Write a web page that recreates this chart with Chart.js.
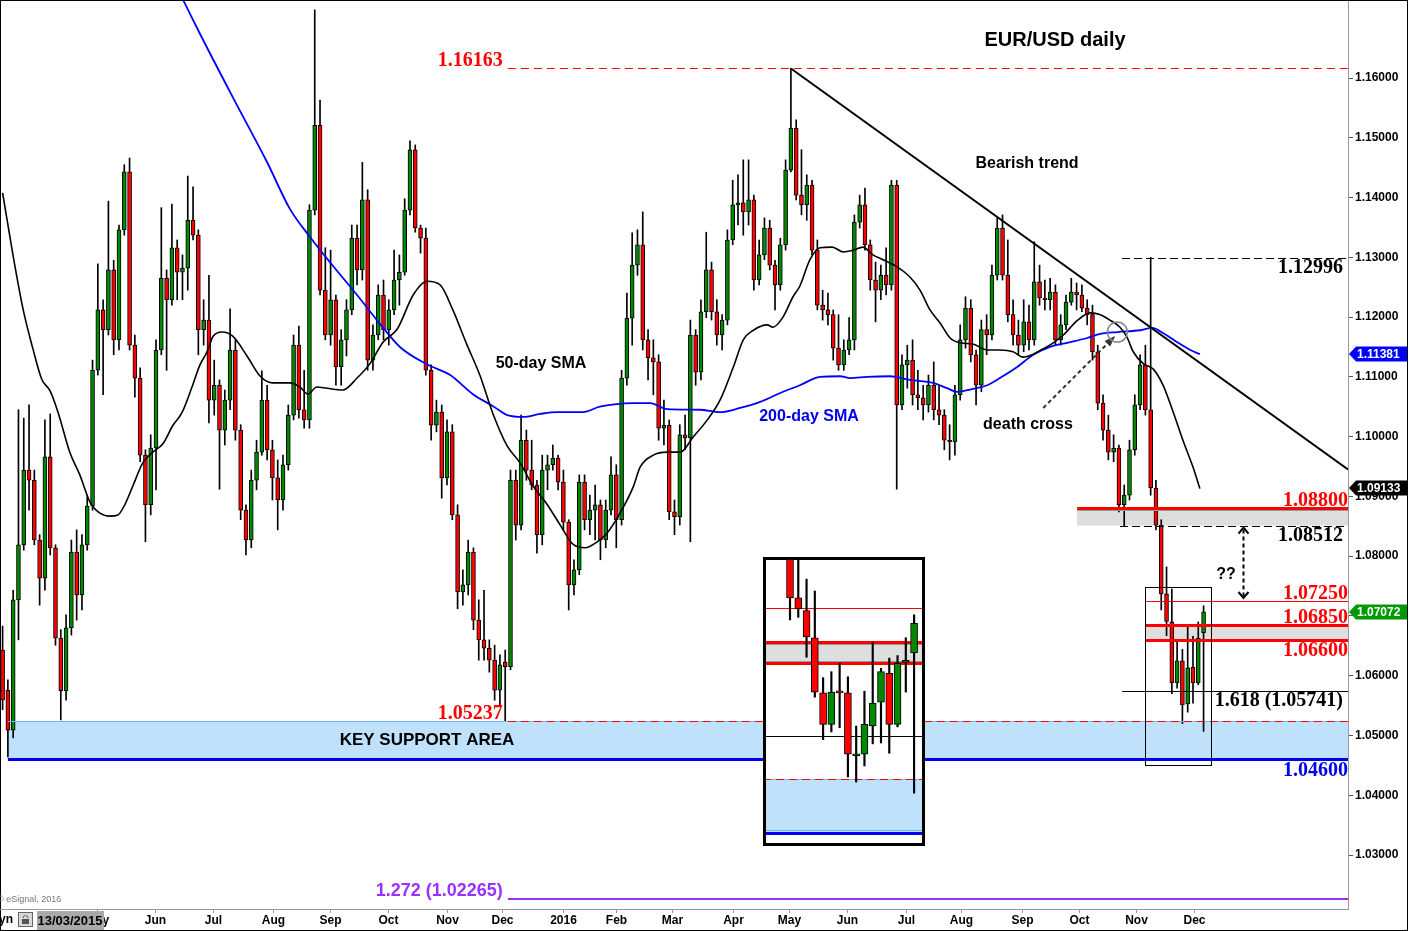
<!DOCTYPE html>
<html>
<head>
<meta charset="utf-8">
<script src="https://cdn.jsdelivr.net/npm/chart.js@4.4.1/dist/chart.umd.min.js"></script>
<style>
  html, body { margin: 0; padding: 0; background: #fff; }
  #wrap { position: relative; width: 1409px; height: 931px; overflow: hidden; }
  #main { position: absolute; left: 0; top: 0; }
  #inset { position: absolute; left: 763px; top: 557px; }
</style>
</head>
<body>
<div id="wrap">
  <canvas id="main" width="1409" height="931"></canvas>
  <canvas id="inset" width="162" height="289"></canvas>
</div>
<script>
// EUR/USD, two-day candles from mid March 2015 to early December 2016
const opens = [
  1.0643, 1.0576, 1.0509, 1.0727, 1.0819, 1.0944, 1.0927, 1.0827, 1.0763, 1.0966,
  1.0814, 1.0663, 1.0575, 1.0680, 1.0807, 1.0735, 1.0819, 1.0884, 1.1111, 1.1212,
  1.1179, 1.1279, 1.1162, 1.1346, 1.1443, 1.1153, 1.1098, 1.0969, 1.0886, 1.0981,
  1.1145, 1.1265, 1.1229, 1.1316, 1.1275, 1.1282, 1.1362, 1.1337, 1.1179, 1.1195,
  1.1061, 1.1086, 1.1011, 1.1061, 1.1145, 1.1011, 1.0877, 1.0827, 1.0927, 1.0974,
  1.1061, 1.0978, 1.0931, 1.0894, 1.0953, 1.1036, 1.1153, 1.1045, 1.1028, 1.1379,
  1.1521, 1.1245, 1.1170, 1.1229, 1.1117, 1.1162, 1.1212, 1.1332, 1.1279, 1.1396,
  1.1128, 1.1170, 1.1237, 1.1179, 1.1212, 1.1262, 1.1275, 1.1379, 1.1480, 1.1349,
  1.1332, 1.1111, 1.1019, 1.1041, 1.0931, 1.1008, 1.0869, 1.0740, 1.0752, 1.0807,
  1.0693, 1.0660, 1.0646, 1.0626, 1.0576, 1.0623, 1.0615, 1.0927, 1.0852, 1.0994,
  1.0944, 1.0919, 1.0836, 1.0944, 1.0953, 1.0964, 1.0924, 1.0857, 1.0752, 1.0777,
  1.0924, 1.0861, 1.0877, 1.0886, 1.0827, 1.0877, 1.0936, 1.0861, 1.1098, 1.1198,
  1.1287, 1.1321, 1.1162, 1.1132, 1.1125, 1.1014, 1.1019, 1.0874, 1.0866, 1.1003,
  1.0998, 1.1170, 1.1108, 1.1209, 1.1279, 1.1209, 1.1170, 1.1195, 1.1329, 1.1388,
  1.1391, 1.1376, 1.1396, 1.1262, 1.1304, 1.1349, 1.1287, 1.1254, 1.1321, 1.1446,
  1.1516, 1.1404, 1.1388, 1.1421, 1.1312, 1.1220, 1.1212, 1.1204, 1.1148, 1.1120,
  1.1145, 1.1162, 1.1359, 1.1388, 1.1321, 1.1262, 1.1245, 1.1270, 1.1254, 1.1421,
  1.1053, 1.1120, 1.1128, 1.1070, 1.1065, 1.1053, 1.1086, 1.1045, 1.1036, 1.0994,
  1.0991, 1.1070, 1.1162, 1.1215, 1.1137, 1.1086, 1.1179, 1.1170, 1.1270, 1.1349,
  1.1270, 1.1204, 1.1170, 1.1153, 1.1192, 1.1162, 1.1259, 1.1232, 1.1229, 1.1242,
  1.1162, 1.1187, 1.1225, 1.1242, 1.1237, 1.1215, 1.1204, 1.1142, 1.1056, 1.1011,
  1.0974, 1.0981, 1.0886, 1.0902, 1.0978, 1.1053, 1.1120, 1.1045, 1.0914, 1.0852,
  1.0737, 1.0690, 1.0588, 1.0625, 1.0553, 1.0614, 1.0588, 1.0672
];
const highs = [
  1.0683, 1.0593, 1.0743, 1.1045, 1.1031, 1.1053, 1.0944, 1.0836, 1.1028, 1.1038,
  1.0819, 1.0677, 1.0702, 1.0827, 1.0844, 1.0836, 1.0902, 1.1128, 1.1289, 1.1229,
  1.1394, 1.1295, 1.1354, 1.1455, 1.1466, 1.1170, 1.1115, 1.0978, 1.1003, 1.1162,
  1.1383, 1.1279, 1.1389, 1.1329, 1.1304, 1.1436, 1.1418, 1.1346, 1.1229, 1.1270,
  1.1128, 1.1095, 1.1078, 1.1214, 1.1162, 1.1020, 1.0886, 1.0944, 1.0994, 1.1110,
  1.1086, 1.0994, 1.0961, 1.0969, 1.1053, 1.1170, 1.1185, 1.1111, 1.1388, 1.1714,
  1.1563, 1.1316, 1.1312, 1.1237, 1.1179, 1.1229, 1.1354, 1.1354, 1.1459, 1.1413,
  1.1187, 1.1254, 1.1262, 1.1229, 1.1312, 1.1304, 1.1398, 1.1495, 1.1488, 1.1354,
  1.1349, 1.1120, 1.1061, 1.1053, 1.1028, 1.1020, 1.0886, 1.0777, 1.0827, 1.0814,
  1.0727, 1.0743, 1.0660, 1.0651, 1.0635, 1.0643, 1.0944, 1.0944, 1.1036, 1.1011,
  1.0994, 1.0927, 1.0969, 1.0969, 1.0986, 1.0969, 1.0944, 1.0861, 1.0794, 1.0936,
  1.0936, 1.0902, 1.0919, 1.0894, 1.0894, 1.0966, 1.0953, 1.1111, 1.1240, 1.1341,
  1.1346, 1.1376, 1.1179, 1.1162, 1.1137, 1.1061, 1.1028, 1.0894, 1.1020, 1.1036,
  1.1195, 1.1179, 1.1229, 1.1342, 1.1292, 1.1229, 1.1204, 1.1346, 1.1429, 1.1438,
  1.1463, 1.1463, 1.1404, 1.1329, 1.1366, 1.1362, 1.1295, 1.1332, 1.1463, 1.1616,
  1.1530, 1.1480, 1.1438, 1.1429, 1.1329, 1.1245, 1.1240, 1.1212, 1.1204, 1.1162,
  1.1199, 1.1371, 1.1404, 1.1416, 1.1329, 1.1292, 1.1287, 1.1316, 1.1429, 1.1429,
  1.1137, 1.1153, 1.1162, 1.1111, 1.1086, 1.1103, 1.1125, 1.1086, 1.1045, 1.1020,
  1.1086, 1.1187, 1.1234, 1.1229, 1.1145, 1.1195, 1.1204, 1.1287, 1.1366, 1.1371,
  1.1329, 1.1229, 1.1195, 1.1229, 1.1220, 1.1326, 1.1287, 1.1262, 1.1265, 1.1254,
  1.1204, 1.1237, 1.1265, 1.1257, 1.1254, 1.1229, 1.1220, 1.1153, 1.1070, 1.1036,
  1.1003, 1.0986, 1.0919, 1.0994, 1.1070, 1.1137, 1.1153, 1.1300, 1.0927, 1.0861,
  1.0782, 1.0745, 1.0660, 1.0644, 1.0685, 1.0666, 1.0690, 1.0717
];
const lows = [
  1.0543, 1.0464, 1.0496, 1.0660, 1.0810, 1.0877, 1.0819, 1.0718, 1.0743, 1.0802,
  1.0651, 1.0526, 1.0559, 1.0668, 1.0693, 1.0710, 1.0810, 1.0877, 1.1103, 1.1070,
  1.1170, 1.1137, 1.1145, 1.1337, 1.1145, 1.1066, 1.0958, 1.0824, 1.0869, 1.0911,
  1.1137, 1.1111, 1.1220, 1.1229, 1.1229, 1.1245, 1.1329, 1.1137, 1.1153, 1.1023,
  1.1036, 1.0912, 1.0986, 1.1045, 1.0994, 1.0861, 1.0802, 1.0814, 1.0911, 1.0969,
  1.0961, 1.0894, 1.0844, 1.0877, 1.0944, 1.1028, 1.1031, 1.1014, 1.1014, 1.1371,
  1.1237, 1.1162, 1.1153, 1.1086, 1.1086, 1.1135, 1.1204, 1.1254, 1.1262, 1.1111,
  1.1111, 1.1162, 1.1162, 1.1153, 1.1204, 1.1220, 1.1270, 1.1371, 1.1342, 1.1307,
  1.1103, 1.0994, 1.1008, 1.0897, 1.0919, 1.0861, 1.0712, 1.0718, 1.0735, 1.0677,
  1.0626, 1.0626, 1.0606, 1.0559, 1.0551, 1.0524, 1.0610, 1.0827, 1.0844, 1.0927,
  1.0911, 1.0805, 1.0819, 1.0911, 1.0944, 1.0911, 1.0844, 1.0710, 1.0735, 1.0769,
  1.0844, 1.0836, 1.0827, 1.0794, 1.0814, 1.0869, 1.0814, 1.0852, 1.1086, 1.1153,
  1.1270, 1.1145, 1.1095, 1.1070, 1.0994, 1.0986, 1.0861, 1.0836, 1.0852, 1.0978,
  1.0824, 1.1086, 1.1095, 1.1199, 1.1195, 1.1153, 1.1145, 1.1187, 1.1321, 1.1354,
  1.1337, 1.1354, 1.1245, 1.1254, 1.1296, 1.1279, 1.1212, 1.1245, 1.1312, 1.1443,
  1.1396, 1.1371, 1.1362, 1.1304, 1.1212, 1.1195, 1.1187, 1.1128, 1.1111, 1.1111,
  1.1137, 1.1145, 1.1349, 1.1312, 1.1245, 1.1192, 1.1229, 1.1237, 1.1245, 1.0912,
  1.1045, 1.1081, 1.1053, 1.1045, 1.1028, 1.1041, 1.1028, 1.1020, 1.0978, 1.0961,
  1.0969, 1.1061, 1.1148, 1.1125, 1.1053, 1.1075, 1.1137, 1.1162, 1.1262, 1.1262,
  1.1192, 1.1153, 1.1137, 1.1142, 1.1145, 1.1153, 1.1220, 1.1212, 1.1212, 1.1153,
  1.1153, 1.1179, 1.1220, 1.1212, 1.1209, 1.1187, 1.1128, 1.1045, 1.0994, 1.0961,
  1.0958, 1.0874, 1.0851, 1.0894, 1.0969, 1.1045, 1.1036, 1.0902, 1.0844, 1.0710,
  1.0667, 1.0570, 1.0579, 1.0520, 1.0539, 1.0554, 1.0585, 1.0507
];
const closes = [
  1.0559, 1.0509, 1.0727, 1.0819, 1.0944, 1.0927, 1.0827, 1.0763, 1.0966, 1.0814,
  1.0663, 1.0575, 1.0680, 1.0807, 1.0735, 1.0819, 1.0884, 1.1111, 1.1212, 1.1179,
  1.1279, 1.1162, 1.1346, 1.1443, 1.1153, 1.1098, 1.0969, 1.0886, 1.0981, 1.1145,
  1.1265, 1.1229, 1.1316, 1.1275, 1.1282, 1.1362, 1.1337, 1.1179, 1.1195, 1.1061,
  1.1086, 1.1011, 1.1061, 1.1145, 1.1011, 1.0877, 1.0827, 1.0927, 1.0974, 1.1061,
  1.0978, 1.0931, 1.0894, 1.0953, 1.1036, 1.1153, 1.1045, 1.1028, 1.1379, 1.1521,
  1.1245, 1.1170, 1.1229, 1.1117, 1.1162, 1.1212, 1.1332, 1.1279, 1.1396, 1.1128,
  1.1170, 1.1237, 1.1179, 1.1212, 1.1262, 1.1275, 1.1379, 1.1480, 1.1349, 1.1332,
  1.1111, 1.1019, 1.1041, 1.0931, 1.1008, 1.0869, 1.0740, 1.0752, 1.0807, 1.0693,
  1.0660, 1.0646, 1.0626, 1.0576, 1.0618, 1.0615, 1.0927, 1.0852, 1.0994, 1.0944,
  1.0919, 1.0836, 1.0944, 1.0953, 1.0964, 1.0924, 1.0857, 1.0752, 1.0777, 1.0924,
  1.0861, 1.0877, 1.0886, 1.0827, 1.0877, 1.0936, 1.0861, 1.1098, 1.1198, 1.1287,
  1.1321, 1.1162, 1.1132, 1.1125, 1.1014, 1.1019, 1.0874, 1.0866, 1.1003, 1.0998,
  1.1170, 1.1108, 1.1209, 1.1279, 1.1209, 1.1170, 1.1195, 1.1329, 1.1388, 1.1391,
  1.1376, 1.1396, 1.1262, 1.1304, 1.1349, 1.1287, 1.1254, 1.1321, 1.1446, 1.1516,
  1.1404, 1.1388, 1.1421, 1.1312, 1.1220, 1.1212, 1.1204, 1.1148, 1.1120, 1.1145,
  1.1162, 1.1359, 1.1388, 1.1321, 1.1262, 1.1245, 1.1270, 1.1254, 1.1421, 1.1053,
  1.1120, 1.1128, 1.1070, 1.1065, 1.1053, 1.1086, 1.1045, 1.1036, 1.0994, 1.0991,
  1.1070, 1.1162, 1.1215, 1.1137, 1.1086, 1.1179, 1.1170, 1.1270, 1.1349, 1.1270,
  1.1204, 1.1170, 1.1153, 1.1192, 1.1162, 1.1259, 1.1232, 1.1229, 1.1242, 1.1162,
  1.1187, 1.1225, 1.1242, 1.1237, 1.1215, 1.1204, 1.1142, 1.1056, 1.1011, 1.0974,
  1.0981, 1.0886, 1.0902, 1.0978, 1.1053, 1.1120, 1.1045, 1.0914, 1.0852, 1.0737,
  1.0691, 1.0588, 1.0625, 1.0551, 1.0613, 1.0588, 1.0663, 1.0707
];

// moving averages, at candle positions
const sma50Idx = [0, 2.0, 3.9, 5.7, 7.4, 9.0, 10.5, 12.7, 14.6, 16.5, 18.4, 20.3, 21.8, 23.1, 24.6, 26.5, 28.4, 30.3, 32.2, 33.9,
  35.8, 37.3, 38.6, 39.8, 41.5, 43.5, 46.2, 48.7, 51.1, 54.3, 56.2, 57.7, 59.4, 61.3, 64.3, 67.0, 69.5, 71.9, 74.6, 77.6,
  80.2, 82.7, 85.1, 87.8, 90.2, 92.7, 95.4, 97.8, 100.3, 102.9, 105.4, 107.8, 110.1, 112.4, 114.3, 116.7, 119.2, 120.5, 123.0, 125.6,
  128.1, 130.5, 133.2, 135.6, 138.1, 140.0, 141.9, 144.5, 145.6, 147.5, 149.4, 150.7, 152.6, 154.5, 156.8, 158.9, 160.8, 162.6, 164.5, 166.4,
  169.1, 171.5, 173.4, 175.3, 177.2, 179.1, 181.0, 183.4, 186.1, 188.5, 191.0, 192.9, 194.8, 196.7, 198.6, 200.5, 203.1, 205.6, 207.5, 209.3,
  211.2, 212.5, 213.7, 215.6, 217.5, 219.4, 221.3, 223.1, 225.0, 226.3];
const sma50Val = [1.1408, 1.1302, 1.1212, 1.1148, 1.1096, 1.1076, 1.1040, 1.0974, 1.0936, 1.0891, 1.0872, 1.0867, 1.0869, 1.0886, 1.0917, 1.0956, 1.0974, 1.0988, 1.1019, 1.1040,
  1.1083, 1.1120, 1.1141, 1.1168, 1.1175, 1.1168, 1.1135, 1.1101, 1.1090, 1.1090, 1.1083, 1.1071, 1.1083, 1.1081, 1.1078, 1.1098, 1.1123, 1.1158, 1.1180, 1.1237,
  1.1260, 1.1254, 1.1212, 1.1153, 1.1103, 1.1038, 1.0984, 1.0956, 1.0917, 1.0887, 1.0852, 1.0820, 1.0814, 1.0824, 1.0839, 1.0872, 1.0916, 1.0949, 1.0969, 1.0974,
  1.0974, 1.0999, 1.1028, 1.1061, 1.1116, 1.1162, 1.1178, 1.1187, 1.1183, 1.1200, 1.1234, 1.1252, 1.1296, 1.1316, 1.1317, 1.1309, 1.1312, 1.1317, 1.1304, 1.1296,
  1.1284, 1.1267, 1.1245, 1.1212, 1.1190, 1.1165, 1.1157, 1.1155, 1.1145, 1.1145, 1.1142, 1.1133, 1.1138, 1.1147, 1.1157, 1.1170, 1.1194, 1.1207, 1.1204, 1.1195,
  1.1183, 1.1167, 1.1142, 1.1122, 1.1113, 1.1085, 1.1040, 1.0994, 1.0949, 1.0913];
const sma200Idx = [31.6, 34.1, 37.3, 43.5, 50.0, 54.3, 58.1, 62.5, 67.0, 71.3, 75.1, 80.2, 84.6, 88.9, 92.7, 95.4, 98.4, 101.6, 104.8, 109.7,
  112.9, 119.2, 122.4, 125.6, 131.8, 135.6, 139.4, 143.2, 147.0, 150.7, 154.5, 158.3, 160.2, 163.4, 167.7, 171.5, 175.9, 178.5, 180.4, 183.4,
  186.1, 188.5, 191.7, 194.8, 198.0, 201.2, 205.0, 207.5, 210.7, 215.0, 217.3, 219.4, 222.0, 224.5, 226.3];
const sma200Val = [1.1774, 1.1731, 1.1674, 1.1568, 1.1459, 1.1381, 1.1334, 1.1285, 1.1237, 1.1189, 1.1150, 1.1121, 1.1103, 1.1071, 1.1051, 1.1036, 1.1033, 1.1038, 1.1041, 1.1041,
  1.1050, 1.1056, 1.1056, 1.1046, 1.1045, 1.1041, 1.1048, 1.1058, 1.1073, 1.1086, 1.1100, 1.1101, 1.1098, 1.1100, 1.1101, 1.1095, 1.1090, 1.1081, 1.1075, 1.1080,
  1.1086, 1.1098, 1.1116, 1.1137, 1.1150, 1.1157, 1.1165, 1.1172, 1.1175, 1.1178, 1.1182, 1.1173, 1.1158, 1.1145, 1.1138];

// last daily candles, shown in the zoom box
const insetOpen  = [1.0800, 1.0737, 1.0722, 1.0690, 1.0625, 1.0588, 1.0626, 1.0625, 1.0551, 1.0553, 1.0586, 1.0614, 1.0648, 1.0588, 1.0661, 1.0672];
const insetHigh  = [1.0800, 1.0782, 1.0759, 1.0745, 1.0643, 1.0650, 1.0660, 1.0644, 1.0586, 1.0627, 1.0685, 1.0654, 1.0666, 1.0669, 1.0690, 1.0717];
const insetLow   = [1.0711, 1.0714, 1.0667, 1.0620, 1.0570, 1.0579, 1.0584, 1.0526, 1.0520, 1.0539, 1.0565, 1.0566, 1.0554, 1.0585, 1.0626, 1.0507];
const insetClose = [1.0737, 1.0724, 1.0691, 1.0626, 1.0588, 1.0626, 1.0625, 1.0553, 1.0551, 1.0588, 1.0613, 1.0650, 1.0588, 1.0660, 1.0663, 1.0707];

const yTicks = [1.03, 1.04, 1.05, 1.06, 1.07, 1.08, 1.09, 1.10, 1.11, 1.12, 1.13, 1.14, 1.15, 1.16];
const monthLabels = ['May', 'Jun', 'Jul', 'Aug', 'Sep', 'Oct', 'Nov', 'Dec', '2016', 'Feb', 'Mar', 'Apr', 'May', 'Jun', 'Jul', 'Aug', 'Sep', 'Oct', 'Nov', 'Dec'];
const monthIdx = [17.8, 28.8, 39.8, 51.1, 61.9, 72.9, 84.0, 94.4, 105.9, 116.0, 126.5, 138.1, 148.7, 159.6, 170.8, 181.2, 192.7, 203.5, 214.3, 225.2];

// price levels
const high2016 = 1.16163, low2015 = 1.05237, nov9High = 1.12996, octLow = 1.08512;
const level10880 = 1.08800, level10725 = 1.07250, level10685 = 1.06850, level10660 = 1.06600;
const fib1618 = 1.05741, marchLow = 1.04600, fib1272 = 1.02265;
const lastSma200 = 1.11381, lastSma50 = 1.09133, lastClose = 1.07072;
// where the levels start (candle index)
const fromMarch = 1.0, fromDecLow = 95.5, fromOct = 203.1, fromNov = 211.6, fromLateNov = 216;
const boxIdx = [216, 228.4], boxPrice = [1.0749, 1.0451];
const trendIdx = [149, 254.3], trendPrice = [1.1616, 1.0945];
const crossArrowIdx = [196.7, 209.9], crossArrowPrice = [1.1048, 1.1165];
const crossIdx = 210.7, crossPrice = 1.1175;
const gapArrowIdx = 234.5;

const GREEN = '#008800', RED = '#ff0000';
Chart.defaults.font.family = "'Liberation Sans', Arial, sans-serif";

function hline(ctx, x0, x1, y, color, width, dash) {
  const yy = width % 2 ? Math.round(y) + 0.5 : Math.round(y);
  ctx.save();
  ctx.beginPath();
  ctx.setLineDash(dash || []);
  ctx.strokeStyle = color;
  ctx.lineWidth = width;
  ctx.moveTo(x0, yy);
  ctx.lineTo(x1, yy);
  ctx.stroke();
  ctx.restore();
}
function text(ctx, str, x, y, font, color, align, base) {
  ctx.save();
  ctx.font = font;
  ctx.fillStyle = color;
  ctx.textAlign = align || 'center';
  ctx.textBaseline = base || 'middle';
  ctx.fillText(str, x, y);
  ctx.restore();
}
function chevron(ctx, x, y, dir) {
  ctx.beginPath();
  ctx.moveTo(x - 5, y + 6 * dir);
  ctx.lineTo(x, y);
  ctx.lineTo(x + 5, y + 6 * dir);
  ctx.stroke();
}

const SERIF = "bold 20px 'Liberation Serif', 'Times New Roman', serif";
const SANS = "'Liberation Sans', Arial, sans-serif";

const annotate = {
  id: 'annotate',
  beforeDatasetsDraw(chart) {
    const { ctx, chartArea: a, scales: { x, y } } = chart;
    const X = v => x.getPixelForValue(v), Y = v => y.getPixelForValue(v);
    ctx.save();
    ctx.fillStyle = '#bfe1fb';
    ctx.fillRect(X(fromMarch), Y(low2015), a.right - X(fromMarch), Y(marchLow) - Y(low2015));
    ctx.fillStyle = '#dedede';
    ctx.fillRect(X(fromOct), Y(level10880), a.right - X(fromOct), Y(octLow) - Y(level10880));
    ctx.fillRect(X(fromLateNov), Y(level10685), a.right - X(fromLateNov), Y(level10660) - Y(level10685));
    ctx.restore();
  },
  afterDatasetsDraw(chart) {
    const { ctx, chartArea: a, scales: { x, y } } = chart;
    const X = v => x.getPixelForValue(v), Y = v => y.getPixelForValue(v);
    const R = a.right;

    // support area
    hline(ctx, X(fromMarch), R, Y(low2015), '#6fb7ee', 1);
    hline(ctx, X(fromMarch), R, Y(marchLow), '#0000ee', 3);
    hline(ctx, X(fromDecLow), R, Y(low2015), RED, 1, [8, 5]);
    hline(ctx, X(fromDecLow), R, Y(high2016), RED, 1, [8, 5]);
    hline(ctx, X(fromDecLow), R, Y(fib1272), '#9b30ff', 2);

    // recent levels
    hline(ctx, X(fromNov), R, Y(nov9High), '#000', 1, [8, 4]);
    hline(ctx, X(fromNov - 0.4), R, Y(octLow), '#000', 1, [8, 4]);
    hline(ctx, X(fromOct), R, Y(level10880), RED, 3);
    hline(ctx, X(fromOct), R, Y(level10880) + 2, '#999', 1);
    hline(ctx, X(fromLateNov), R, Y(level10725), RED, 1);
    hline(ctx, X(fromLateNov), R, Y(level10685), RED, 3);
    hline(ctx, X(fromLateNov), R, Y(level10660), RED, 3);
    hline(ctx, X(fromNov), R, Y(fib1618), '#000', 1);

    // box round the last weeks
    ctx.save();
    ctx.strokeStyle = '#000';
    ctx.lineWidth = 1;
    const bx0 = Math.round(X(boxIdx[0])) + 0.5, bx1 = Math.round(X(boxIdx[1])) + 0.5;
    const by0 = Math.round(Y(boxPrice[0])) + 0.5, by1 = Math.round(Y(boxPrice[1])) + 0.5;
    ctx.strokeRect(bx0, by0, bx1 - bx0, by1 - by0);
    ctx.restore();

    // bearish trend line
    ctx.save();
    ctx.beginPath();
    ctx.rect(a.left, a.top, a.width, a.height);
    ctx.clip();
    ctx.strokeStyle = '#000';
    ctx.lineWidth = 2;
    ctx.beginPath();
    ctx.moveTo(X(trendIdx[0]), Y(trendPrice[0]));
    ctx.lineTo(X(trendIdx[1]), Y(trendPrice[1]));
    ctx.stroke();
    ctx.restore();

    // death cross arrow and circle
    ctx.save();
    const ax0 = X(crossArrowIdx[0]), ay0 = Y(crossArrowPrice[0]);
    const ax1 = X(crossArrowIdx[1]), ay1 = Y(crossArrowPrice[1]);
    ctx.strokeStyle = '#333';
    ctx.fillStyle = '#333';
    ctx.lineWidth = 2;
    ctx.setLineDash([4, 3]);
    ctx.beginPath();
    ctx.moveTo(ax0, ay0);
    ctx.lineTo(ax1, ay1);
    ctx.stroke();
    ctx.setLineDash([]);
    const ang = Math.atan2(ay1 - ay0, ax1 - ax0);
    ctx.beginPath();
    ctx.moveTo(ax1 + 3 * Math.cos(ang), ay1 + 3 * Math.sin(ang));
    ctx.lineTo(ax1 - 9 * Math.cos(ang - 0.45), ay1 - 9 * Math.sin(ang - 0.45));
    ctx.lineTo(ax1 - 9 * Math.cos(ang + 0.45), ay1 - 9 * Math.sin(ang + 0.45));
    ctx.closePath();
    ctx.fill();
    ctx.strokeStyle = '#888';
    ctx.lineWidth = 1.5;
    ctx.beginPath();
    ctx.arc(X(crossIdx), Y(crossPrice), 10, 0, Math.PI * 2);
    ctx.stroke();
    ctx.restore();

    // dashed double arrow between 1.08512 and 1.0725
    ctx.save();
    const gx = Math.round(X(gapArrowIdx)) + 0.5;
    const gy0 = Y(octLow) + 2, gy1 = Y(level10725) - 3;
    ctx.strokeStyle = '#000';
    ctx.lineWidth = 2;
    ctx.setLineDash([4, 3]);
    ctx.beginPath();
    ctx.moveTo(gx, gy0 + 2);
    ctx.lineTo(gx, gy1 - 2);
    ctx.stroke();
    ctx.setLineDash([]);
    chevron(ctx, gx, gy0, 1);
    chevron(ctx, gx, gy1, -1);
    ctx.restore();

    // level labels
    const lx = X(fromDecLow) - 5;
    text(ctx, '1.16163', lx, Y(high2016) - 2, SERIF, RED, 'right', 'alphabetic');
    text(ctx, '1.05237', lx, Y(low2015) - 2, SERIF, RED, 'right', 'alphabetic');
    text(ctx, '1.272 (1.02265)', lx, Y(fib1272) - 3, 'bold 18px ' + SANS, '#9b30ff', 'right', 'alphabetic');
    text(ctx, '1.12996', R - 5, Y(nov9High) + 15, SERIF, '#000', 'right', 'alphabetic');
    text(ctx, '1.08800', R, Y(level10880) - 2, SERIF, RED, 'right', 'alphabetic');
    text(ctx, '1.08512', R - 5, Y(octLow) + 15, SERIF, '#000', 'right', 'alphabetic');
    text(ctx, '1.07250', R, Y(level10725) - 2, SERIF, RED, 'right', 'alphabetic');
    text(ctx, '1.06850', R, Y(level10685) - 2, SERIF, RED, 'right', 'alphabetic');
    text(ctx, '1.06600', R, Y(level10660) + 16, SERIF, RED, 'right', 'alphabetic');
    text(ctx, '1.618 (1.05741)', R - 5, Y(fib1618) + 15, SERIF, '#000', 'right', 'alphabetic');
    text(ctx, '1.04600', R, Y(marchLow) + 17, SERIF, '#0000ee', 'right', 'alphabetic');

    // comments
    text(ctx, 'EUR/USD daily', 1055, 40, 'bold 20px ' + SANS, '#000');
    text(ctx, 'Bearish trend', 1027, 164, 'bold 16px ' + SANS, '#000');
    text(ctx, '50-day SMA', 541, 364, 'bold 16px ' + SANS, '#000');
    text(ctx, '200-day SMA', 809, 417, 'bold 16px ' + SANS, '#0000ee');
    text(ctx, 'death cross', 1028, 425, 'bold 16px ' + SANS, '#000');
    text(ctx, 'KEY SUPPORT AREA', 427, 740, 'bold 17px ' + SANS, '#000');
    text(ctx, '??', 1226, 575, 'bold 16px ' + SANS, '#000');
  },
  afterDraw(chart) {
    const { ctx, chartArea: a, scales: { x, y } } = chart;
    const X = v => x.getPixelForValue(v), Y = v => y.getPixelForValue(v);
    ctx.save();
    // frame
    ctx.strokeStyle = '#000';
    ctx.lineWidth = 1;
    ctx.strokeRect(0.5, 0.5, 1407, 930);
    ctx.strokeStyle = '#999';
    ctx.beginPath();
    ctx.moveTo(0, a.bottom + 0.5);
    ctx.lineTo(a.right, a.bottom + 0.5);
    ctx.stroke();
    // months
    monthIdx.forEach((m, k) => {
      const px = Math.round(X(m)) + 0.5;
      ctx.strokeStyle = '#999';
      ctx.beginPath();
      ctx.moveTo(px, a.bottom);
      ctx.lineTo(px, a.bottom + 4);
      ctx.stroke();
      text(ctx, monthLabels[k], px, 921, "bold 12px 'Liberation Sans Narrow', " + SANS, '#000');
    });
    text(ctx, '\u00a9 eSignal, 2016', -3, 900, '9px ' + SANS, '#777', 'left');
    // date box at the left of the time axis
    text(ctx, 'yn', -1, 920, 'bold 12px ' + SANS, '#000', 'left');
    ctx.fillStyle = '#d8d8d8';
    ctx.fillRect(18, 912, 15, 15);
    ctx.strokeStyle = '#666';
    ctx.strokeRect(18.5, 912.5, 14, 14);
    ctx.fillStyle = '#555';
    ctx.fillRect(22, 919, 7, 5);
    ctx.beginPath();
    ctx.arc(25.5, 918, 2.5, Math.PI, 0);
    ctx.stroke();
    ctx.fillStyle = '#a9a9a9';
    ctx.fillRect(37, 911, 67, 19);
    text(ctx, '13/03/2015', 70, 921, 'bold 13px ' + SANS, '#000');
    // price tags
    [[lastSma200, '#0000ff'], [lastSma50, '#000000'], [lastClose, '#009900']].forEach(([v, c]) => {
      const yc = Math.round(Y(v));
      ctx.fillStyle = c;
      ctx.beginPath();
      ctx.moveTo(a.right + 1, yc);
      ctx.lineTo(a.right + 8, yc - 7.5);
      ctx.lineTo(1407, yc - 7.5);
      ctx.lineTo(1407, yc + 7.5);
      ctx.lineTo(a.right + 8, yc + 7.5);
      ctx.closePath();
      ctx.fill();
      text(ctx, v.toFixed(5), a.right + 9, yc + 1, 'bold 12px ' + SANS, '#fff', 'left');
    });
    ctx.restore();
  }
};

const bodyColors = closes.map((c, i) => (c >= opens[i] ? GREEN : RED));

new Chart(document.getElementById('main'), {
  type: 'bar',
  data: {
    datasets: [
      {
        type: 'line', label: '50-day SMA',
        data: sma50Idx.map((v, i) => ({ x: v, y: sma50Val[i] })),
        borderColor: '#000', borderWidth: 1.6, pointRadius: 0,
        cubicInterpolationMode: 'monotone', order: 0
      },
      {
        type: 'line', label: '200-day SMA',
        data: sma200Idx.map((v, i) => ({ x: v, y: sma200Val[i] })),
        borderColor: '#0000ff', borderWidth: 1.8, pointRadius: 0,
        cubicInterpolationMode: 'monotone', order: 0
      },
      {
        label: 'body',
        data: opens.map((o, i) => ({ x: i, y: [o, closes[i]] })),
        backgroundColor: bodyColors, borderColor: '#000', borderWidth: 1,
        borderSkipped: false, barThickness: 4, grouped: false, minBarLength: 1, order: 1
      },
      {
        label: 'wick',
        data: lows.map((l, i) => ({ x: i, y: [l, highs[i]] })),
        backgroundColor: '#000', borderWidth: 0, barThickness: 1, grouped: false, order: 2
      }
    ]
  },
  options: {
    responsive: false,
    animation: false,
    events: [],
    layout: { padding: { top: 0, left: 0, right: 0, bottom: 22 } },
    plugins: { legend: { display: false }, tooltip: { enabled: false } },
    scales: {
      x: { type: 'linear', min: -0.49, max: 254.3, offset: false, display: false },
      y: {
        type: 'linear', position: 'right', min: 1.02097, max: 1.17305,
        afterBuildTicks: s => { s.ticks = yTicks.map(v => ({ value: v })); },
        afterFit: s => { s.width = 61; s.paddingTop = 0; s.paddingBottom = 0; },
        ticks: {
          autoSkip: false, padding: 2, color: '#000',
          font: { size: 12, weight: 'bold' },
          callback: v => Number(v).toFixed(5)
        },
        grid: { drawOnChartArea: false, tickLength: 5, color: '#555' },
        border: { color: '#999', width: 1 }
      }
    }
  },
  plugins: [annotate]
});

// zoom box with the last daily candles
const insetDraw = {
  id: 'insetDraw',
  beforeDatasetsDraw(chart) {
    const { ctx, chartArea: a, scales: { y } } = chart;
    const Y = v => y.getPixelForValue(v);
    ctx.save();
    ctx.fillStyle = '#fff';
    ctx.fillRect(0, 0, chart.width, chart.height);
    ctx.fillStyle = '#dedede';
    ctx.fillRect(0, Y(level10685), a.right, Y(level10660) - Y(level10685));
    ctx.fillStyle = '#bfe1fb';
    ctx.fillRect(0, Y(low2015), a.right, Y(marchLow) - Y(low2015));
    ctx.restore();
    hline(ctx, 0, a.right, Y(level10725), RED, 1);
    hline(ctx, 0, a.right, Y(level10685) + 2, '#999', 1);
    hline(ctx, 0, a.right, Y(level10660) - 2, '#999', 1);
    hline(ctx, 0, a.right, Y(level10685), RED, 3);
    hline(ctx, 0, a.right, Y(level10660), RED, 3);
    hline(ctx, 0, a.right, Y(fib1618), '#000', 1);
    hline(ctx, 0, a.right, Y(low2015), '#6fb7ee', 1);
    hline(ctx, 0, a.right, Y(low2015), RED, 1, [8, 5]);
    hline(ctx, 0, a.right, Y(marchLow) - 3, '#6fb7ee', 1);
    hline(ctx, 0, a.right, Y(marchLow), '#0000ee', 3);
  },
  afterDraw(chart) {
    const ctx = chart.ctx;
    ctx.save();
    ctx.strokeStyle = '#000';
    ctx.lineWidth = 3;
    ctx.strokeRect(1.5, 1.5, chart.width - 3, chart.height - 3);
    ctx.restore();
  }
};

new Chart(document.getElementById('inset'), {
  type: 'bar',
  data: {
    datasets: [
      {
        data: insetOpen.map((o, k) => ({ x: k, y: [o, insetClose[k]] })),
        backgroundColor: insetClose.map((c, k) => (c >= insetOpen[k] ? GREEN : RED)),
        borderColor: '#000', borderWidth: 1, borderSkipped: false,
        barThickness: 7, grouped: false, minBarLength: 2, order: 1
      },
      {
        data: insetLow.map((l, k) => ({ x: k, y: [l, insetHigh[k]] })),
        backgroundColor: '#000', borderWidth: 0, barThickness: 1.5, grouped: false, order: 2
      }
    ]
  },
  options: {
    responsive: false,
    animation: false,
    events: [],
    layout: { padding: 0 },
    plugins: { legend: { display: false }, tooltip: { enabled: false } },
    scales: {
      x: { type: 'linear', min: -3.265, max: 16.32, offset: false, display: false },
      y: { type: 'linear', min: 1.04447, max: 1.07851, display: false }
    }
  },
  plugins: [insetDraw]
});
</script>
</body>
</html>
